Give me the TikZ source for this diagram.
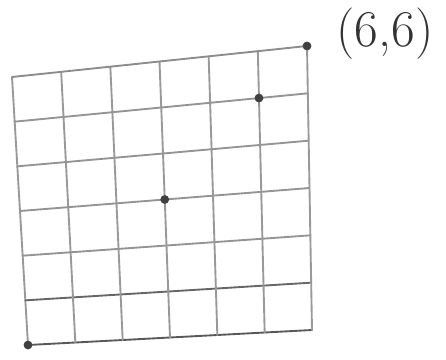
\documentclass[tikz,border=0pt]{standalone}
\usetikzlibrary{calc}
\tikzstyle{gridline} = [line width=1.6pt, line cap=round]
\tikzstyle{dot} = [circle, fill=black!75, inner sep=0pt, minimum size=7.5pt]
\tikzstyle{lbl} = [font=\fontsize{44}{50}\selectfont, text=black!80]
\begin{document}
\begin{tikzpicture}[x=0.03cm,y=-0.03cm]
    \useasboundingbox (0,0) rectangle (446,359);

    % Corners
    \coordinate (bl) at (28,345);
    \coordinate (br) at (312,330);
    \coordinate (tl) at (12,77);
    \coordinate (tr) at (307,46);

    % Grid
    \foreach \k/\shade in {0/65,1/60,2/42,3/42,4/42,5/42,6/45} {
        \draw[gridline, draw=black!\shade] ($(bl)!\k/6!(tl)$) -- ($(br)!\k/6!(tr)$);
        \draw[gridline, draw=black!40] ($(bl)!\k/6!(br)$) -- ($(tl)!\k/6!(tr)$);
    }

    % Points
    \node[dot] (p00) at (bl) {};
    \node[dot] (p33) at ($($(bl)!0.5!(br)$)!0.5!($(tl)!0.5!(tr)$)$) {};
    \node[dot] (p55) at ($($(bl)!0.8333!(br)$)!0.8333!($(tl)!0.8333!(tr)$)$) {};
    \node[dot] (p66) at (tr) {};
    \node[lbl] (l66) at (385,34) {(6,6)};

\end{tikzpicture}
\end{document}
